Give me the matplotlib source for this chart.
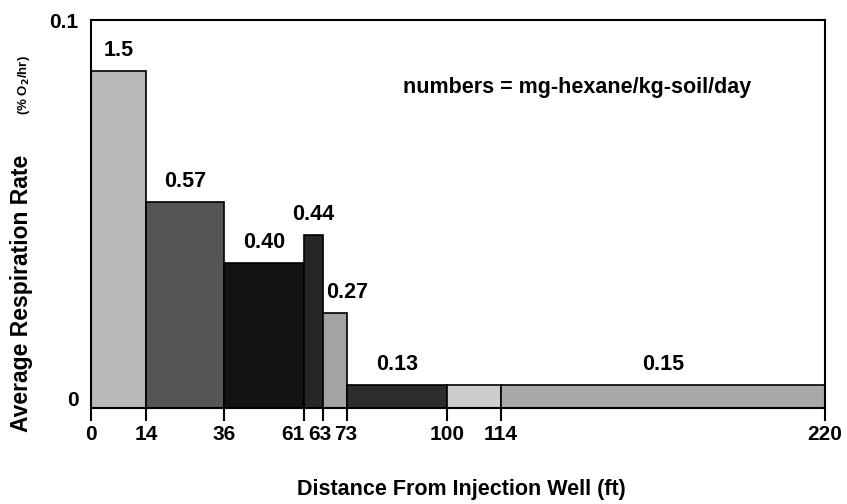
import numpy as np
import matplotlib
matplotlib.use("Agg")
import matplotlib.pyplot as plt
from matplotlib.transforms import ScaledTranslation

# ---- data ----
bin_edges = [0, 14, 36, 61, 63, 73, 100, 114, 220]
rates = [0.0869, 0.0531, 0.0374, 0.0446, 0.0245, 0.0059, 0.0059, 0.0059]
bar_labels = ["1.5", "0.57", "0.40", "0.44", "0.27", "0.13", "", "0.15"]
xtick_labels = ["0", "14", "36", "61", "63", "73", "100", "114", "220"]

# ---- style ----
colors = ["#b8b8b8", "#555555", "#121212", "#262626", "#a3a3a3", "#2c2c2c", "#cdcdcd", "#a8a8a8"]
# hand-drawn (non-linear) axis of the original figure
axis_positions = [0, 55, 133, 213, 232, 256, 356, 410, 734]

plt.rcParams['font.family'] = ['Liberation Sans', 'DejaVu Sans']
plt.rcParams['font.weight'] = 'bold'


def fwd(x):
    return np.interp(x, bin_edges, axis_positions)


def inv(y):
    return np.interp(y, axis_positions, bin_edges)


fig = plt.figure(figsize=(8.47, 5.04), dpi=100)
ax = fig.add_axes([91/847, 1-408/504, (825-91)/847, (408-20)/504])
ax.set_xscale('function', functions=(fwd, inv))

edges = np.array(bin_edges, dtype=float)
lefts = edges[:-1]
widths = np.diff(edges)
ax.bar(lefts, rates, width=widths, align='edge', color=colors,
       edgecolor='black', linewidth=1.2)

for l, w, r, lab in zip(lefts, widths, rates, bar_labels):
    if lab:
        xc = inv((fwd(l) + fwd(l + w)) / 2)
        t = ax.text(xc, r + 0.0025, lab, ha='center', va='bottom',
                    fontsize=15.5, fontweight='bold')
        if lab == "0.27":
            t.set_transform(ax.transData + ScaledTranslation(12/100, 0, fig.dpi_scale_trans))

ax.set_xlim(0, 220)
ax.set_ylim(0, 0.1)
ax.set_xticks(bin_edges)
ax.set_xticklabels(xtick_labels)
ax.set_yticks([0, 0.1])
ax.set_yticklabels(["0", "0.1"])
ax.tick_params(axis='x', direction='out', length=9, width=1.5, labelsize=15, pad=3)
ax.tick_params(axis='y', length=0, labelsize=15, pad=9)
for lab in ax.get_yticklabels() + ax.get_xticklabels():
    lab.set_fontweight('bold')
# nudge crowded / offset tick labels as in the original
shifts_x = {"61": -11, "63": -3, "73": -1}
for lab in ax.get_xticklabels():
    dx = shifts_x.get(lab.get_text(), 0)
    if dx:
        lab.set_transform(lab.get_transform() + ScaledTranslation(dx/100, 0, fig.dpi_scale_trans))
ylabs = ax.get_yticklabels()
ylabs[0].set_transform(ylabs[0].get_transform() + ScaledTranslation(0, 9/100, fig.dpi_scale_trans))
for s in ax.spines.values():
    s.set_linewidth(1.5)

ax.text(0.425, 0.825, "numbers = mg-hexane/kg-soil/day", transform=ax.transAxes,
        ha='left', va='center', fontsize=15.5, fontweight='bold')

fig.text(461/847, 1 - 489/504, "Distance From Injection Well (ft)",
         ha='center', va='center', fontsize=15.5, fontweight='bold')
fig.text(22/847, 1 - 293/504, "Average Respiration Rate", rotation=90,
         ha='center', va='center', fontsize=16.5, fontweight='bold')
fig.text(24/847, 1 - 85/504, r"(% O$_2$/hr)", rotation=90,
         ha='center', va='center', fontsize=9.5, fontweight='bold')

fig.savefig("out.png", dpi=100)
